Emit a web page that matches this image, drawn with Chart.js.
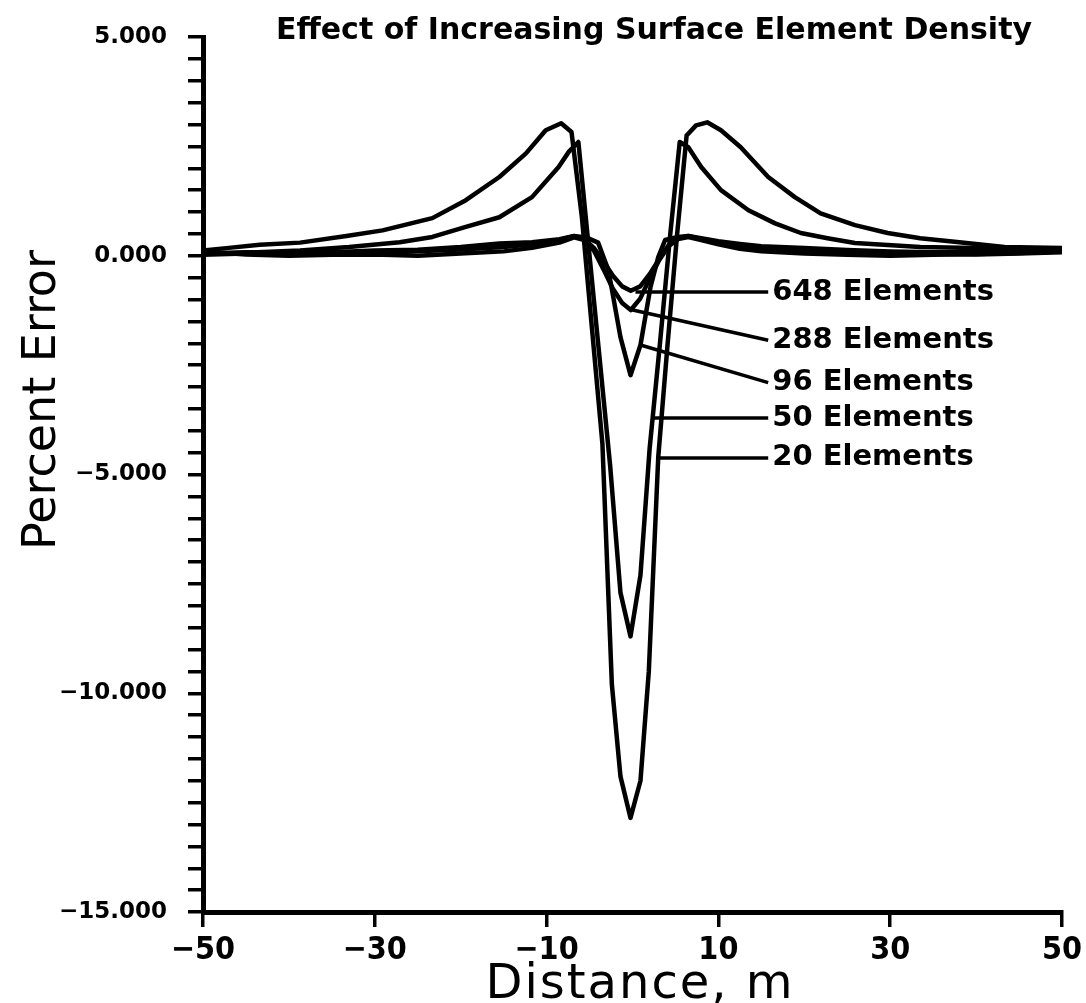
<!DOCTYPE html>
<html><head><meta charset="utf-8">
<script src="https://cdn.jsdelivr.net/npm/chart.js@4"></script>
<style>html,body{margin:0;padding:0;background:#fff}#wrap{width:1086px;height:1003px}</style>
</head><body><div id="wrap"><canvas id="c" width="1086" height="1003"></canvas></div>
<script>
const titleText = 'Effect of Increasing Surface Element Density';
const xTitle = 'Distance, m';
const yTitle = 'Percent Error';
const seriesNames = ['648 Elements', '288 Elements', '96 Elements', '50 Elements', '20 Elements'];

const xFine = [-50,-45,-40,-35,-30,-25,-20,-15,-11.7,-8.5,-6.8,-5.6,-4.5,-3.4,-2.3,-1.2,-0.2,0.9,2.0,3.1,4.2,5.3,6.5,8.0,10,12.5,15,20,25,30,35,40,45,50];
const y648 = [0.02,0.05,0.02,0.03,0.06,0.1,0.14,0.2,0.26,0.36,0.45,0.38,0.18,-0.12,-0.45,-0.7,-0.8,-0.7,-0.42,-0.08,0.24,0.4,0.45,0.38,0.3,0.22,0.17,0.1,0.07,0.05,0.04,0.03,0.05,0.08];
const y288 = [0.1,0.03,0.0,0.02,0.03,0.0,0.05,0.1,0.18,0.3,0.42,0.36,0.12,-0.3,-0.75,-1.08,-1.24,-0.98,-0.52,-0.1,0.22,0.38,0.43,0.36,0.26,0.16,0.1,0.05,0.02,0.0,0.02,0.04,0.06,0.1];

const x96 = [-50,-45,-40,-35,-30,-25,-20,-15.5,-11.7,-8.5,-6.8,-5.4,-4.0,-2.8,-1.4,-0.23,0.93,2.1,3.0,3.8,5.3,6.5,8.0,10,12.5,15,20,25,30,35,40,45,50];
const y96 = [0.05,0.08,0.06,0.08,0.12,0.14,0.2,0.28,0.31,0.38,0.45,0.42,0.3,-0.33,-1.86,-2.73,-2.04,-0.71,-0.03,0.36,0.43,0.45,0.4,0.33,0.27,0.22,0.18,0.13,0.1,0.08,0.08,0.1,0.12];

const x50 = [-50,-46.5,-38.7,-33,-27.1,-23.3,-19.4,-15.5,-11.7,-8.6,-7.4,-6.3,-5.1,-3.9,-2.6,-1.4,-0.23,0.93,2.0,3.2,4.4,5.5,6.5,8.0,10.3,13.5,16.6,19.6,22.7,25.9,33.5,41.3,50];
const y50 = [0.05,0.06,0.12,0.2,0.31,0.43,0.66,0.88,1.34,2.03,2.38,2.6,0.2,-2.2,-4.8,-7.7,-8.7,-7.3,-4.4,-2.0,0.5,2.6,2.48,2.03,1.5,1.04,0.74,0.52,0.4,0.29,0.2,0.17,0.13];

const x20 = [-50,-47,-43.4,-38.7,-33.3,-29.1,-23.3,-19.4,-15.5,-12.4,-10.1,-8.3,-7.1,-5.9,-4.7,-3.5,-2.4,-1.4,-0.23,0.93,1.9,3.0,4.1,5.2,6.3,7.4,8.7,10.3,12.6,15.8,18.9,21.9,25.9,29.7,33.5,37.5,43.3,50];
const y20 = [0.12,0.18,0.25,0.3,0.45,0.58,0.86,1.27,1.8,2.34,2.87,3.03,2.83,0.9,-1.7,-4.3,-9.8,-11.9,-12.85,-12.0,-9.5,-4.6,-1.99,0.5,2.75,2.98,3.05,2.87,2.48,1.8,1.34,0.97,0.7,0.52,0.4,0.32,0.2,0.18];

const leaderStartX = [0.35, -0.23, 0.93, 2.45, 3.1];
const leaderStartY = [-0.83, -1.23, -2.04, -3.71, -4.62];
const leaderEndX = [15.8, 15.8, 15.8, 15.8, 15.8];
const leaderEndY = [-0.83, -1.93, -2.90, -3.71, -4.62];

const xTickValues = [-50, -30, -10, 10, 30, 50];
const xTickLabels = ['\u221250', '\u221230', '\u221210', '10', '30', '50'];
const yMajorValues = [5, 0, -5, -10, -15];
const yTickLabels = ['5.000', '0.000', '\u22125.000', '\u221210.000', '\u221215.000'];
const yMin = -15, yMax = 5, yMinorStep = 0.5;

function pts(xs, ys) { return xs.map((v, i) => ({x: v, y: ys[i]})); }

const curveSets = [[xFine, y648], [xFine, y288], [x96, y96], [x50, y50], [x20, y20]];
const datasets = curveSets.map((c, i) => ({
  label: seriesNames[i], data: pts(c[0], c[1]),
  borderColor: '#000', borderWidth: 4.5, pointRadius: 0, tension: 0, fill: false,
  borderJoinStyle: 'round', borderCapStyle: 'round'
}));
seriesNames.forEach((n, i) => datasets.push({
  label: n + ' leader',
  data: [{x: leaderStartX[i], y: leaderStartY[i]}, {x: leaderEndX[i], y: leaderEndY[i]}],
  borderColor: '#000', borderWidth: 3.5, pointRadius: 0, tension: 0, fill: false
}));

const textPlugin = {
  id: 'texts',
  afterDraw(chart) {
    const {ctx, scales: {x, y}} = chart;
    ctx.save();
    ctx.fillStyle = '#000';
    ctx.font = 'bold 30px "DejaVu Sans"';
    ctx.textAlign = 'center'; ctx.textBaseline = 'alphabetic';
    ctx.fillText(titleText, 654, 39);
    ctx.font = 'bold 29px "DejaVu Sans"';
    ctx.textAlign = 'left'; ctx.textBaseline = 'middle';
    seriesNames.forEach((n, i) => {
      ctx.fillText(n, x.getPixelForValue(leaderEndX[i]) + 4, y.getPixelForValue(leaderEndY[i]));
    });
    ctx.font = '48px "DejaVu Sans"';
    ctx.textAlign = 'center'; ctx.textBaseline = 'alphabetic';
    try { ctx.letterSpacing = '2px'; } catch (e) {}
    ctx.fillText(xTitle, 640, 998);
    try { ctx.letterSpacing = '0px'; } catch (e) {}
    ctx.font = '46px "DejaVu Sans"';
    ctx.translate(55, 400);
    ctx.rotate(-Math.PI / 2);
    ctx.fillText(yTitle, 0, 0);
    ctx.restore();
  }
};

new Chart(document.getElementById('c'), {
  type: 'line',
  data: {datasets},
  plugins: [textPlugin],
  options: {
    responsive: false, animation: false, devicePixelRatio: 1,
    layout: {padding: {top: 37, right: 21, left: 0, bottom: 0}},
    plugins: {legend: {display: false}, tooltip: {enabled: false}, title: {display: false}},
    scales: {
      x: {
        type: 'linear', min: -50, max: 50,
        afterBuildTicks: s => { s.ticks = xTickValues.map(v => ({value: v})); },
        afterFit: s => { s.height = 91; },
        ticks: {autoSkip: false, maxRotation: 0, padding: 4, color: '#000',
          font: {family: '"Liberation Sans Narrow", "DejaVu Sans Condensed", "DejaVu Sans"', size: 32, weight: 'bold'},
          callback: (v, i) => xTickLabels[i]},
        grid: {drawOnChartArea: false, drawTicks: true, tickLength: 15, lineWidth: 3.5, color: '#000'},
        border: {display: true, color: '#000', width: 5}
      },
      y: {
        type: 'linear', min: yMin, max: yMax,
        afterBuildTicks: s => {
          const t = [];
          for (let v = yMin; v <= yMax + 1e-9; v += yMinorStep) t.push({value: Math.round(v * 10) / 10});
          s.ticks = t;
        },
        afterFit: s => { s.width = 203; },
        ticks: {autoSkip: false, padding: 21, color: '#000',
          font: {family: '"DejaVu Sans"', size: 23, weight: 'bold'},
          callback: (v) => { const k = yMajorValues.indexOf(v); return k >= 0 ? yTickLabels[k] : ''; }},
        grid: {drawOnChartArea: false, drawTicks: true, tickLength: 15, lineWidth: 3.5, color: '#000'},
        border: {display: true, color: '#000', width: 5}
      }
    }
  }
});
</script></body></html>
